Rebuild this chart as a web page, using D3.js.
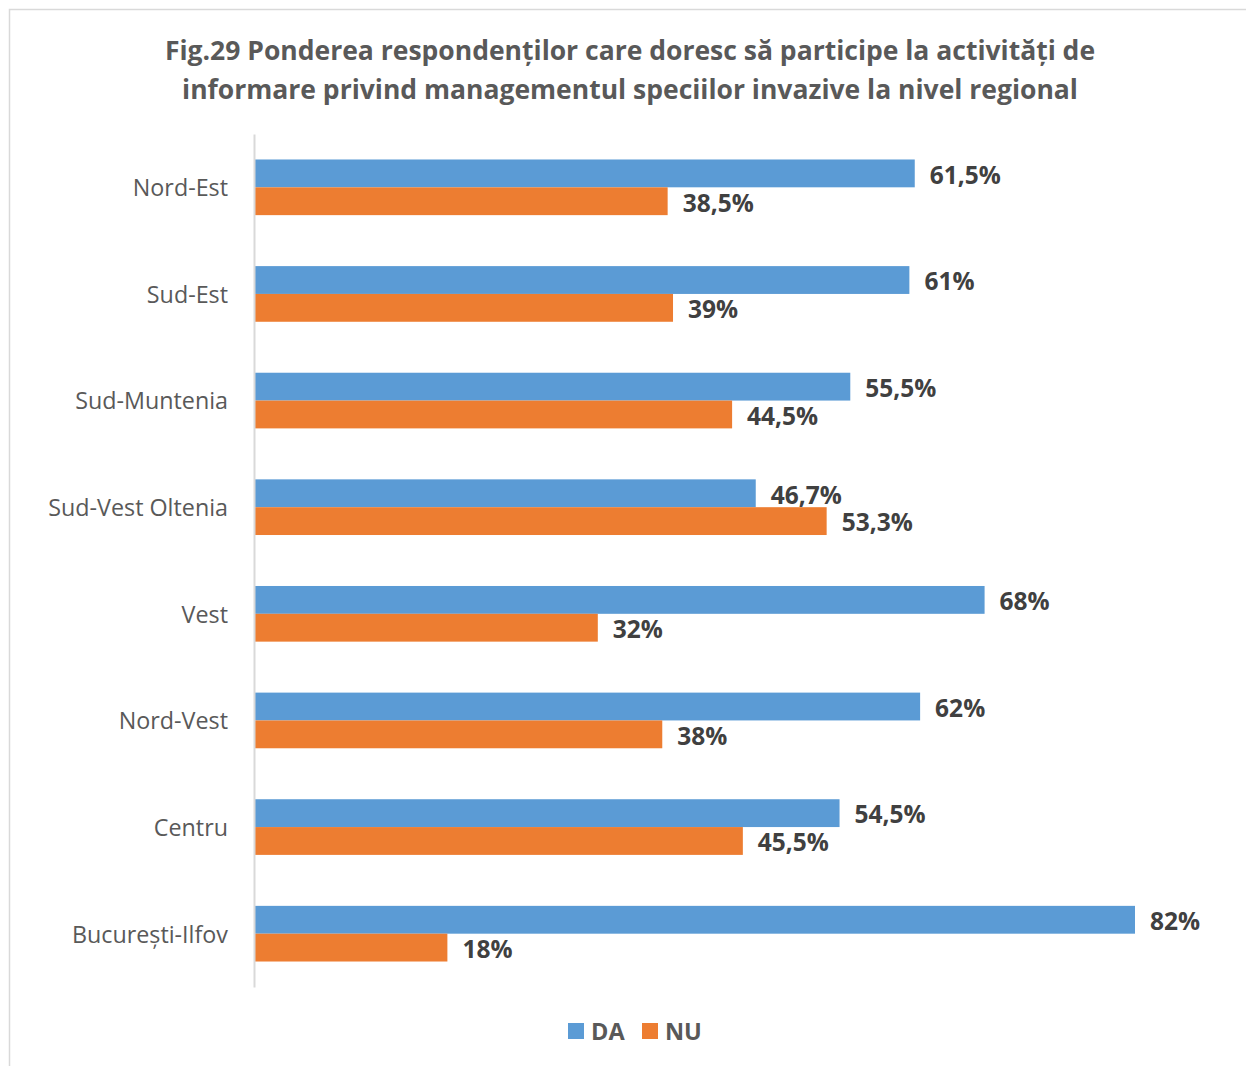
<!DOCTYPE html>
<html>
<head>
<meta charset="utf-8">
<script src="https://cdn.jsdelivr.net/npm/d3@7"></script>
<style>
  body { margin: 0; background: #fff; }
  svg { display: block; font-family: "Open Sans", sans-serif; }
</style>
</head>
<body>
<div id="chart"></div>
<script>
"use strict";

var regions = ["Nord-Est", "Sud-Est", "Sud-Muntenia", "Sud-Vest Oltenia", "Vest", "Nord-Vest", "Centru", "București-Ilfov"];
var da = [61.5, 61, 55.5, 46.7, 68, 62, 54.5, 82];
var nu = [38.5, 39, 44.5, 53.3, 32, 38, 45.5, 18];
var seriesNames = ["DA", "NU"];
var seriesColors = ["#5B9BD5", "#ED7D31"];
var titleLines = [
  "Fig.29 Ponderea respondenților care doresc să participe la activități de",
  "informare privind managementul speciilor invazive la nivel regional"
];

var w = 1246,
  h = 1066;

var fmt = function (v) {
  return String(v).replace(".", ",") + "%";
};

var svg = d3.select("#chart").append("svg").attr("width", w).attr("height", h);

// chart frame
svg.append("rect")
  .attr("x", 9.5).attr("y", 9.5)
  .attr("width", w).attr("height", h)
  .attr("fill", "#fff")
  .attr("stroke", "#d9d9d9")
  .attr("stroke-width", 1.5);

svg.append("g").selectAll("text")
  .data(titleLines)
  .enter().append("text")
  .attr("x", 630)
  .attr("y", function (d, i) { return 60 + i * 39; })
  .attr("text-anchor", "middle")
  .attr("font-size", 26.5)
  .attr("font-weight", "bold")
  .attr("fill", "#595959")
  .text(function (d) { return d; });

var x0 = 254;
var x = d3.scaleLinear().domain([0, 82]).range([x0, 1135]);
var y = d3.scaleBand().domain(regions).range([134, 987]).paddingInner(0.478).paddingOuter(0.239);
var ySub = d3.scaleBand().domain(seriesNames).range([0, y.bandwidth()]);

var rows = regions.map(function (r, i) {
  return { region: r, values: [da[i], nu[i]] };
});

var group = svg.append("g").selectAll("g")
  .data(rows)
  .enter().append("g")
  .attr("transform", function (d) { return "translate(0," + y(d.region) + ")"; });

var bars = group.selectAll("g.bar")
  .data(function (d) {
    return d.values.map(function (v, j) { return { name: seriesNames[j], value: v, color: seriesColors[j] }; });
  })
  .enter().append("g").attr("class", "bar");

bars.append("rect")
  .attr("x", x0)
  .attr("y", function (d) { return ySub(d.name); })
  .attr("width", function (d) { return x(d.value) - x0; })
  .attr("height", ySub.bandwidth())
  .attr("fill", function (d) { return d.color; });

bars.append("text")
  .attr("x", function (d) { return x(d.value) + 15; })
  .attr("y", function (d) { return ySub(d.name) + ySub.bandwidth() / 2; })
  .attr("dy", "0.42em")
  .attr("font-size", 24.5)
  .attr("font-weight", "bold")
  .attr("fill", "#404040")
  .text(function (d) { return fmt(d.value); });

// category axis
var yAxis = svg.append("g")
  .attr("transform", "translate(" + x0 + ",0)")
  .call(d3.axisLeft(y).tickSize(0).tickPadding(26));
yAxis.select(".domain").attr("stroke", "#d9d9d9").attr("stroke-width", 2);
yAxis.selectAll("text")
  .attr("font-size", 23.3)
  .attr("dy", "0.38em")
  .attr("font-family", "'Open Sans', sans-serif")
  .attr("fill", "#595959");

// legend
var legend = svg.append("g").selectAll("g")
  .data(seriesNames)
  .enter().append("g")
  .attr("transform", function (d, i) { return "translate(" + (568 + i * 74) + ",1023)"; });
legend.append("rect")
  .attr("width", 16).attr("height", 16)
  .attr("fill", function (d, i) { return seriesColors[i]; });
legend.append("text")
  .attr("x", 23).attr("y", 8)
  .attr("dy", "0.38em")
  .attr("font-size", 23.5)
  .attr("font-weight", "bold")
  .attr("fill", "#595959")
  .text(function (d) { return d; });
</script>
</body>
</html>
